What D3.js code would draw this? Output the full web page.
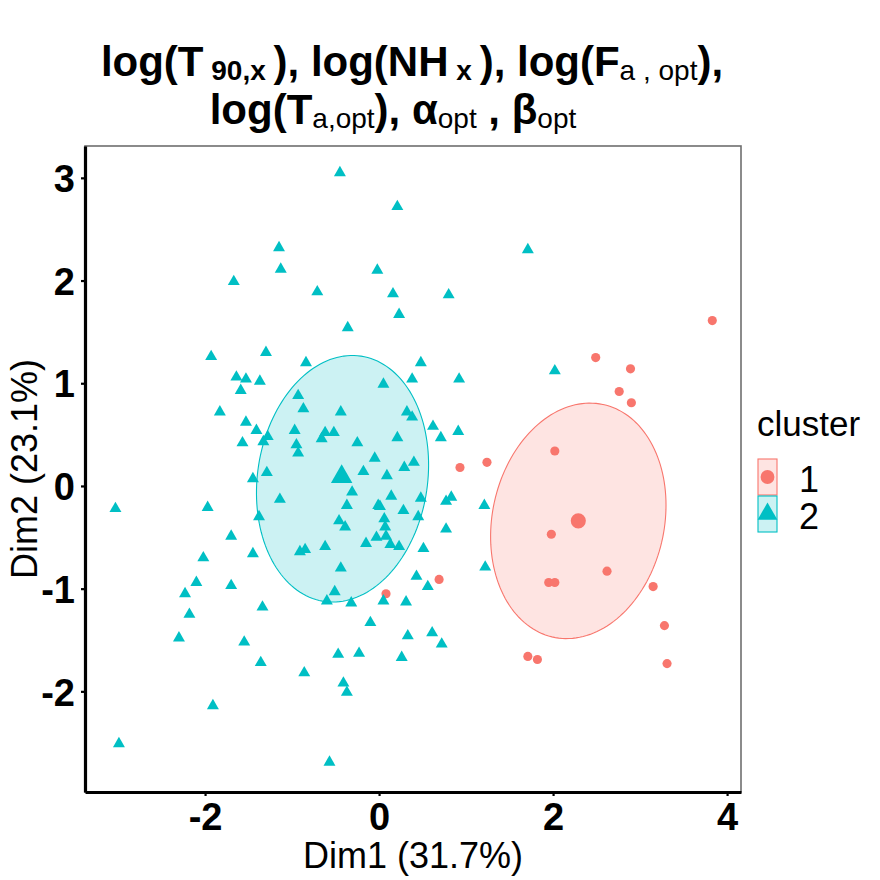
<!DOCTYPE html>
<html>
<head>
<meta charset="utf-8">
<script src="https://cdn.jsdelivr.net/npm/d3@7"></script>
<style>
    body { margin: 0; background: #fff; }
    text { font-family: "Liberation Sans", Arial, Helvetica, sans-serif; }
</style>
</head>
<body>
<svg id="chart" width="880" height="880"></svg>
<script>

// cluster 2 (teal triangles)
let cluster2X = [-0.45, 0.21, -1.15, -1.13, -0.02, -1.67, -0.71, 0.16, 0.23, -0.36,
    -1.93, -1.30, -0.84, 0.48, -1.64, -1.53, -1.37, 0.38, 0.05, -1.59,
    -0.93, -1.83, -0.87, -0.44, 0.32, 0.38, -1.53, -1.41, -0.97, -0.62,
    -0.52, -1.28, -1.33, -0.66, -1.57, -0.25, 0.21, -0.95, -0.93, -0.05,
    0.40, 1.71, 0.80, 0.92, 2.02, 0.62, 0.71, 0.91, 0.29, 0.48,
    0.77, 0.83, 1.21, 0.28, 0.45, 0.77, 0.51, 1.22, 0.43, 0.56,
    0.31, 0.33, 0.61, 0.72, 0.26, -1.29, -1.45, -0.18, 0.09, -3.03,
    -1.97, -1.14, -0.31, 0.14, -1.38, -0.37, -0.01, 0.01, -0.46, -0.39,
    0.06, 0.07, -1.70, -0.03, 0.08, -0.15, 0.13, 0.23, -0.91, -0.85,
    -0.62, -2.02, -1.45, -0.44, -2.10, -1.70, -2.23, -0.51, -0.60, -0.32,
    0.05, -1.34, -2.18, -0.10, -2.30, -1.55, -0.47, -0.23, -1.36, -0.86,
    -0.41, -0.37, -1.91, -2.99, -0.57];
let cluster2Y = [3.05, 2.72, 2.32, 2.11, 2.10, 1.99, 1.89, 1.87, 1.67, 1.54,
    1.26, 1.30, 1.20, 1.20, 1.06, 1.04, 1.02, 1.04, 0.99, 0.93,
    0.88, 0.72, 0.75, 0.72, 0.72, 0.67, 0.62, 0.54, 0.54, 0.52,
    0.52, 0.48, 0.43, 0.46, 0.42, 0.42, 0.47, 0.40, 0.32, 0.27,
    0.23, 2.30, 1.86, 1.04, 1.12, 0.58, 0.47, 0.53, 0.18, -0.12,
    -0.15, -0.11, -0.19, -0.24, -0.30, -0.42, -0.61, -0.79, -0.88, -0.98,
    -1.13, -1.46, -1.43, -1.54, -1.67, 0.13, 0.07, 0.14, 0.10, -0.22,
    -0.21, -0.13, -0.06, -0.10, -0.30, -0.19, -0.19, -0.20, -0.34, -0.40,
    -0.32, -0.40, -0.49, -0.50, -0.49, -0.56, -0.57, -0.59, -0.64, -0.62,
    -0.59, -0.70, -0.66, -0.80, -0.94, -0.97, -1.05, -1.03, -1.12, -1.14,
    -1.12, -1.18, -1.25, -1.33, -1.48, -1.52, -1.64, -1.63, -1.72, -1.82,
    -1.92, -2.01, -2.14, -2.51, -2.69];

// cluster 1 (red circles)
let cluster1X = [3.83, 2.49, 2.89, 2.76, 2.90, 2.02, 1.24, 0.93, 1.98, 2.62,
    1.95, 2.02, 0.69, 3.15, 3.28, 1.71, 1.82, 3.31, 0.08];
let cluster1Y = [1.61, 1.25, 1.14, 0.92, 0.81, 0.34, 0.23, 0.18, -0.47, -0.83,
    -0.94, -0.94, -0.91, -0.98, -1.36, -1.66, -1.69, -1.73, -1.05];

// cluster centres, order: cluster 1, cluster 2
let centerX = [2.29, -0.43];
let centerY = [-0.34, 0.09];

// ellipses: centre and two half-axis vectors (data units)
let ellipseCx = [2.29, -0.42];
let ellipseCy = [-0.34, 0.07];
let ellipseMajor = [[0.285, 1.133], [0.213, 1.194]];
let ellipseMinor = [[0.967, -0.175], [0.966, -0.124]];

let clusters = ["1", "2"];
let clusterColors = ["#F8766D", "#00BFC4"];
let xTicks = [-2, 0, 2, 4];
let yTicks = [-2, -1, 0, 1, 2, 3];

let titleLine1 = [["log(T", false], [" 90,x ", true], ["), log(NH", false], [" x ", true],
    ["), log(F", false], ["a , opt", true], ["),", false]];
let titleLine2 = [["log(T", false], ["a,opt", true], ["), α", false], ["opt", true],
    [" , β", false], ["opt", true]];


class ClusterVis {

    constructor(parentElement){
        this.parentElement = parentElement;

        this.initVis()
    }

    initVis(){
        let vis = this;

        vis.svg = d3.select("#" + vis.parentElement);
        vis.margin = {top: 146, right: 139, bottom: 88, left: 85};
        vis.width = 880 - vis.margin.left - vis.margin.right;
        vis.height = 880 - vis.margin.top - vis.margin.bottom;

        vis.x = d3.scaleLinear().domain([-3.38, 4.16]).range([0, vis.width]);
        vis.y = d3.scaleLinear().domain([-2.98, 3.31]).range([vis.height, 0]);

        vis.g = vis.svg.append("g")
            .attr("transform", `translate(${vis.margin.left},${vis.margin.top})`);

        vis.wrangleData();
    }

    wrangleData(){
        let vis = this;

        vis.points = [];
        cluster1X.forEach((d, i) => vis.points.push({x: d, y: cluster1Y[i], c: 0}));
        cluster2X.forEach((d, i) => vis.points.push({x: d, y: cluster2Y[i], c: 1}));

        vis.centers = centerX.map((d, i) => ({x: d, y: centerY[i], c: i}));

        vis.ellipses = ellipseCx.map((cx, i) => d3.range(0, 2 * Math.PI, 0.04).map(t => [
            cx + Math.cos(t) * ellipseMajor[i][0] + Math.sin(t) * ellipseMinor[i][0],
            ellipseCy[i] + Math.cos(t) * ellipseMajor[i][1] + Math.sin(t) * ellipseMinor[i][1]
        ]));

        vis.updateVis();
    }

    updateVis(){
        let vis = this;

        // panel border (grey, top/right visible)
        vis.g.append("rect")
            .attr("width", vis.width)
            .attr("height", vis.height)
            .attr("fill", "none")
            .attr("stroke", "#6e6e6e")
            .attr("stroke-width", 1.6);

        // ellipses
        let line = d3.line()
            .x(d => vis.x(d[0]))
            .y(d => vis.y(d[1]))
            .curve(d3.curveLinearClosed);

        vis.g.selectAll(".ellipse")
            .data(vis.ellipses)
            .enter().append("path")
            .attr("class", "ellipse")
            .attr("d", line)
            .attr("fill", (d, i) => clusterColors[i])
            .attr("fill-opacity", 0.2)
            .attr("stroke", (d, i) => clusterColors[i])
            .attr("stroke-width", 1.1);

        let symbols = [d3.symbolCircle, d3.symbolTriangle];
        let smallSize = [66, 62];
        let bigSize = [180, 200];

        vis.g.selectAll(".pt")
            .data(vis.points)
            .enter().append("path")
            .attr("class", "pt")
            .attr("transform", d => `translate(${vis.x(d.x)},${vis.y(d.y)})`)
            .attr("d", d => d3.symbol().type(symbols[d.c]).size(smallSize[d.c])())
            .attr("fill", d => clusterColors[d.c]);

        vis.g.selectAll(".centre")
            .data(vis.centers)
            .enter().append("path")
            .attr("class", "centre")
            .attr("transform", d => `translate(${vis.x(d.x)},${vis.y(d.y)})`)
            .attr("d", d => d3.symbol().type(symbols[d.c]).size(bigSize[d.c])())
            .attr("fill", d => clusterColors[d.c]);

        // axes
        let xAxis = vis.g.append("g")
            .attr("transform", `translate(0,${vis.height})`)
            .call(d3.axisBottom(vis.x).tickValues(xTicks).tickSize(4).tickSizeOuter(0).tickPadding(7)
                .tickFormat(d3.format("d")));
        let yAxis = vis.g.append("g")
            .call(d3.axisLeft(vis.y).tickValues(yTicks).tickSize(4).tickSizeOuter(0).tickPadding(6)
                .tickFormat(d3.format("d")));

        [xAxis, yAxis].forEach(ax => {
            ax.select(".domain").attr("stroke", "#000").attr("stroke-width", 3.2);
            ax.selectAll(".tick line").attr("stroke", "#000").attr("stroke-width", 2.2);
            ax.selectAll(".tick text")
                .attr("fill", "#000")
                .style("font-size", "38px")
                .style("font-weight", "bold")
                .style("font-family", "'Liberation Sans', Arial, sans-serif");
        });
        xAxis.selectAll(".tick text").attr("dy", "0.71em");
        yAxis.selectAll(".tick text").attr("dy", "0.36em");
        xAxis.selectAll(".tick text").text(d => d < 0 ? "-" + Math.abs(d) : d);
        yAxis.selectAll(".tick text").text(d => d < 0 ? "-" + Math.abs(d) : d);

        // axis titles
        vis.svg.append("text")
            .attr("x", vis.margin.left + vis.width / 2)
            .attr("y", 868)
            .attr("text-anchor", "middle")
            .style("font-size", "36px")
            .text("Dim1 (31.7%)");

        vis.svg.append("text")
            .attr("transform", `translate(37,${vis.margin.top + vis.height / 2}) rotate(-90)`)
            .attr("text-anchor", "middle")
            .style("font-size", "36px")
            .text("Dim2 (23.1%)");

        // title
        vis.drawTitle(titleLine1, 412, 76);
        vis.drawTitle(titleLine2, 393, 124);

        // legend
        let legend = vis.svg.append("g").attr("transform", "translate(757,0)");
        legend.append("text")
            .attr("x", 0)
            .attr("y", 436)
            .style("font-size", "35px")
            .text("cluster");

        let keys = legend.selectAll(".key")
            .data(clusters)
            .enter().append("g")
            .attr("class", "key")
            .attr("transform", (d, i) => `translate(0,${459 + i * 37})`);

        keys.append("rect")
            .attr("x", 1)
            .attr("width", 19)
            .attr("height", 36)
            .attr("fill", (d, i) => clusterColors[i])
            .attr("fill-opacity", 0.2)
            .attr("stroke", (d, i) => clusterColors[i])
            .attr("stroke-width", 1.1);

        keys.append("path")
            .attr("transform", "translate(10.5,18)")
            .attr("d", (d, i) => d3.symbol().type(symbols[i]).size(i === 0 ? 150 : 170)())
            .attr("fill", (d, i) => clusterColors[i]);

        keys.append("text")
            .attr("x", 42)
            .attr("y", 33)
            .style("font-size", "36px")
            .text(d => d);
    }

    drawTitle(parts, cx, baseline){
        let vis = this;

        let t = vis.svg.append("text")
            .attr("x", cx)
            .attr("y", baseline)
            .attr("text-anchor", "middle")
            .attr("xml:space", "preserve")
            .style("white-space", "pre")
            .style("font-size", "42px")
            .style("font-weight", "bold");

        let shift = 0;
        parts.forEach(p => {
            let sub = p[1];
            let dy = sub ? 4 - shift : -shift;
            shift = sub ? 4 : 0;
            t.append("tspan")
                .attr("dy", dy)
                .style("font-size", sub ? "28px" : "42px")
                .style("font-weight", sub && p[0].indexOf("opt") >= 0 ? "normal" : "bold")
                .text(p[0]);
        });
    }
}

new ClusterVis("chart");

</script>
</body>
</html>
